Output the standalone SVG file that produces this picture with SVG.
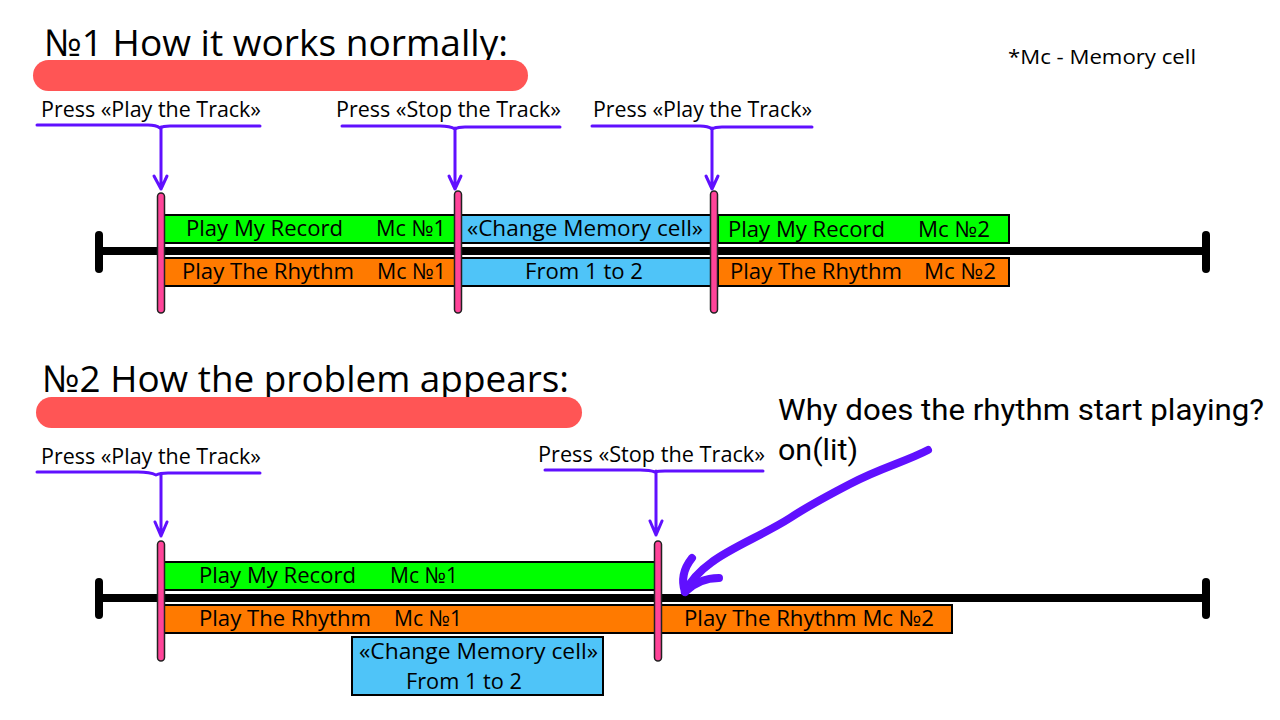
<svg xmlns="http://www.w3.org/2000/svg" width="1280" height="720" viewBox="0 0 1280 720">
<style>
  text { font-family: "Open Sans", "Liberation Sans", sans-serif; fill: #000; }
  .title { font-size: 37px; }
  .lbl { font-size: 21px; }
  .bar { font-size: 22px; }
  .note { font-size: 20px; }
  .q { font-size: 30px; font-family: Roboto, "Open Sans", sans-serif; }
  .pill { fill: #ff5555; }
  .green { fill: #00ff00; stroke: #000; stroke-width: 2; }
  .orange { fill: #ff7a00; stroke: #000; stroke-width: 2; }
  .blue { fill: #4fc4f8; stroke: #000; stroke-width: 2; }
  .marker { fill: #ff4499; stroke: #222; stroke-width: 1.5; }
  .axis { stroke: #000; stroke-width: 8; stroke-linecap: round; fill: none; }
  .ptr { stroke: #6010ff; stroke-width: 3; fill: none; stroke-linecap: round; stroke-linejoin: round; }
  .big { stroke: #6010ff; stroke-width: 8; fill: none; stroke-linecap: round; stroke-linejoin: round; }
</style>
<rect width="1280" height="720" fill="#fff"/>

<!-- Section 1 -->
<g id="title1">
  <text class="title" x="44" y="56" textLength="464" lengthAdjust="spacingAndGlyphs">№1 How it works normally:</text>
  <rect class="pill" x="33" y="60" width="495" height="31" rx="15.5"/>
</g>
<g id="legend">
  <text class="note" x="1008" y="64" textLength="188" lengthAdjust="spacingAndGlyphs">*Mc - Memory cell</text>
</g>

<g id="timeline1">
  <line class="axis" x1="99" y1="251" x2="1206" y2="251"/>
  <line class="axis" x1="99" y1="235" x2="99" y2="269"/>
  <line class="axis" x1="1206" y1="235" x2="1206" y2="269"/>
</g>

<g id="s1-record1">
  <rect class="green" x="164" y="215" width="292" height="28"/>
  <text class="bar" x="186" y="236" textLength="157" lengthAdjust="spacingAndGlyphs">Play My Record</text>
  <text class="bar" x="376" y="236" textLength="70" lengthAdjust="spacingAndGlyphs">Mc №1</text>
</g>
<g id="s1-rhythm1">
  <rect class="orange" x="164" y="258" width="292" height="28"/>
  <text class="bar" x="182" y="279" textLength="172" lengthAdjust="spacingAndGlyphs">Play The Rhythm</text>
  <text class="bar" x="377" y="279" textLength="69" lengthAdjust="spacingAndGlyphs">Mc №1</text>
</g>
<g id="s1-change">
  <rect class="blue" x="460" y="215" width="254" height="28"/>
  <rect class="blue" x="460" y="258" width="254" height="28"/>
  <text class="bar" x="467" y="236" textLength="236" lengthAdjust="spacingAndGlyphs">«Change Memory cell»</text>
  <text class="bar" x="525" y="279" textLength="118" lengthAdjust="spacingAndGlyphs">From 1 to 2</text>
</g>
<g id="s1-record2">
  <rect class="green" x="718" y="215" width="291" height="28"/>
  <text class="bar" x="728" y="237" textLength="157" lengthAdjust="spacingAndGlyphs">Play My Record</text>
  <text class="bar" x="918" y="237" textLength="72" lengthAdjust="spacingAndGlyphs">Mc №2</text>
</g>
<g id="s1-rhythm2">
  <rect class="orange" x="718" y="258" width="291" height="28"/>
  <text class="bar" x="730" y="279" textLength="172" lengthAdjust="spacingAndGlyphs">Play The Rhythm</text>
  <text class="bar" x="924" y="279" textLength="72" lengthAdjust="spacingAndGlyphs">Mc №2</text>
</g>

<g id="s1-markers">
  <rect class="marker" x="157.5" y="193" width="7" height="120" rx="3.5"/>
  <rect class="marker" x="454.5" y="191" width="7" height="122" rx="3.5"/>
  <rect class="marker" x="710.5" y="191" width="7" height="122" rx="3.5"/>
</g>

<g id="s1-press-play1">
  <text class="lbl" x="41" y="117" textLength="220" lengthAdjust="spacingAndGlyphs">Press «Play the Track»</text>
</g>
<g id="s1-press-stop">
  <text class="lbl" x="336" y="117" textLength="225" lengthAdjust="spacingAndGlyphs">Press «Stop the Track»</text>
</g>
<g id="s1-press-play2">
  <text class="lbl" x="593" y="117" textLength="219" lengthAdjust="spacingAndGlyphs">Press «Play the Track»</text>
</g>

<!-- Section 2 -->
<g id="title2">
  <text class="title" x="42" y="392" textLength="527" lengthAdjust="spacingAndGlyphs">№2 How the problem appears:</text>
  <rect class="pill" x="36" y="397" width="546" height="31" rx="15.5"/>
</g>

<g id="question">
  <text class="q" x="778" y="420" textLength="486" lengthAdjust="spacingAndGlyphs">Why does the rhythm start playing?</text>
  <text class="q" x="778" y="460" textLength="80" lengthAdjust="spacingAndGlyphs">on(lit)</text>
</g>

<g id="timeline2">
  <line class="axis" x1="99" y1="598" x2="1206" y2="598"/>
  <line class="axis" x1="99" y1="582" x2="99" y2="615"/>
  <line class="axis" x1="1206" y1="582" x2="1206" y2="615"/>
</g>

<g id="s2-record1">
  <rect class="green" x="164" y="562" width="492" height="28"/>
  <text class="bar" x="199" y="583" textLength="157" lengthAdjust="spacingAndGlyphs">Play My Record</text>
  <text class="bar" x="390" y="583" textLength="68" lengthAdjust="spacingAndGlyphs">Mc №1</text>
</g>
<g id="s2-rhythm1">
  <rect class="orange" x="164" y="605" width="492" height="28"/>
  <text class="bar" x="199" y="626" textLength="172" lengthAdjust="spacingAndGlyphs">Play The Rhythm</text>
  <text class="bar" x="394" y="626" textLength="68" lengthAdjust="spacingAndGlyphs">Mc №1</text>
</g>
<g id="s2-rhythm2">
  <rect class="orange" x="660" y="605" width="292" height="28"/>
  <text class="bar" x="684" y="626" textLength="250" lengthAdjust="spacingAndGlyphs">Play The Rhythm Mc №2</text>
</g>
<g id="s2-change">
  <rect class="blue" x="352" y="637" width="251" height="58"/>
  <text class="bar" x="359" y="659" textLength="239" lengthAdjust="spacingAndGlyphs">«Change Memory cell»</text>
  <text class="bar" x="406" y="689" textLength="116" lengthAdjust="spacingAndGlyphs">From 1 to 2</text>
</g>

<g id="s2-markers">
  <rect class="marker" x="157.5" y="541" width="7" height="120" rx="3.5"/>
  <rect class="marker" x="654.5" y="541" width="7" height="120" rx="3.5"/>
</g>

<g id="s2-press-play">
  <text class="lbl" x="41" y="464" textLength="220" lengthAdjust="spacingAndGlyphs">Press «Play the Track»</text>
</g>
<g id="s2-press-stop">
  <text class="lbl" x="538" y="462" textLength="227" lengthAdjust="spacingAndGlyphs">Press «Stop the Track»</text>
</g>

<!-- Connectors -->
<g id="connectors">
  <path class="ptr" d="M37,125 L148,125 Q156,125 160,128 Q163,126 170,126 L260,126"/>
  <path class="ptr" d="M161,127 L161,189 M154,176 L161,189 L167,176"/>
  <path class="ptr" d="M342,126 L440,126 Q450,126 455,129 Q458,127 465,127 L560,127"/>
  <path class="ptr" d="M455,128 L455,189 M449,176 L455,189 L461,176"/>
  <path class="ptr" d="M592,126 L700,126 Q708,126 712,129 Q715,127 722,127 L812,127"/>
  <path class="ptr" d="M712,128 L712,189 M706,176 L712,189 L718,176"/>

  <path class="ptr" d="M37,472 L138,472 Q150,472 156,475 Q160,473 168,473 L260,473"/>
  <path class="ptr" d="M161,474 L161,536 M155,522 L161,536 L167,522"/>
  <path class="ptr" d="M545,470 L640,470 Q650,470 655,472 Q658,471 665,471 L763,471"/>
  <path class="ptr" d="M656,471 L656,535 M650,521 L656,535 L662,521"/>

  <path class="big" d="M928,450 C905,462 880,468 850,484 C825,497 805,508 790,518 C765,534 730,548 712,562 C698,572 690,582 685,592"/>
  <path class="big" d="M685,592 C681,580 684,568 692,558"/>
  <path class="big" d="M685,592 C694,583 705,578 719,578"/>
</g>
</svg>
